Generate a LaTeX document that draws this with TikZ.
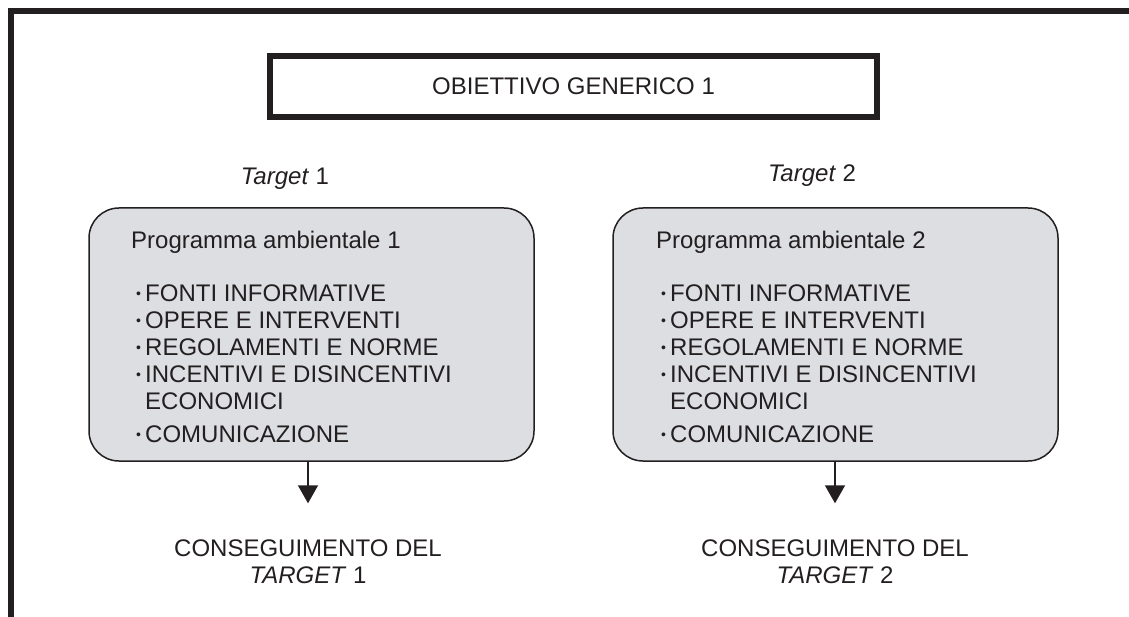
\documentclass[tikz,border=0pt]{standalone}
\usepackage{fontspec}
\setmainfont{Liberation Sans}
\usepackage{tikz}
\usetikzlibrary{arrows.meta,positioning}
\definecolor{ink}{RGB}{35,31,32}
\definecolor{boxgray}{RGB}{220,222,225}
\newcommand{\itemdot}{\makebox[14pt][l]{\hspace{5pt}\raisebox{3.4pt}{\fontsize{14}{14}\selectfont\textbullet}}}
\newcommand{\itemgap}{\hspace*{14pt}}

\begin{document}
\begin{tikzpicture}[x=1pt,y=-1pt]
			\tikzstyle{Frame}	= [line width=6pt, ink]
			\tikzstyle{Goal}	= [draw=ink, line width=6pt, minimum width=607pt, minimum height=61pt, inner sep=0pt]
			\tikzstyle{Program}	= [draw=ink, fill=boxgray, line width=1.5pt, rounded corners=30pt, minimum width=445pt, minimum height=253pt]
			\tikzstyle{Txt}		= [text=ink, font=\fontsize{24}{27}\selectfont, inner sep=0pt]
			\tikzstyle{Items}	= [Txt, align=left, anchor=north west]
			\tikzstyle{Result}	= [Txt, align=center]
			\tikzstyle{Arrow}	= [-{Triangle[width=20pt,length=18pt]}, line width=1.5pt, ink, shorten >=36pt]

			\useasboundingbox (0,0) rectangle (1129,617);

			\coordinate (fb) at (11,617);
			\coordinate (fc) at (11,11);
			\coordinate (fr) at (1129,11);
			\draw [-] (fb) -- (fc) -- (fr) [Frame];

			\node (goal) at (573.5,86.5) [Goal, Txt] {OBIETTIVO GENERICO 1};

			\node (p1) at (311.5,334.5) [Program] {};
			\node (p2) at (835.5,334.5) [Program] {};

			\node (t1) at (285,185) [Txt, anchor=base] {\textit{Target} 1};
			\node (t2) at (812,182) [Txt, anchor=base] {\textit{Target} 2};

			\node (h1) at (131,249) [Txt, anchor=base west] {Programma ambientale 1};
			\node (h2) at (656,249) [Txt, anchor=base west] {Programma ambientale 2};

			\node (l1) at (131,285) [Items] {\itemdot FONTI INFORMATIVE\\ \itemdot OPERE E INTERVENTI\\ \itemdot REGOLAMENTI E NORME\\ \itemdot INCENTIVI E DISINCENTIVI\\ \itemgap ECONOMICI\\[6pt] \itemdot COMUNICAZIONE};
			\node (l2) at (656,285) [Items] {\itemdot FONTI INFORMATIVE\\ \itemdot OPERE E INTERVENTI\\ \itemdot REGOLAMENTI E NORME\\ \itemdot INCENTIVI E DISINCENTIVI\\ \itemgap ECONOMICI\\[6pt] \itemdot COMUNICAZIONE};

			\node (r1) at (308,561.5) [Result] {CONSEGUIMENTO DEL\\ \textit{TARGET} 1};
			\node (r2) at (835,561.5) [Result] {CONSEGUIMENTO DEL\\ \textit{TARGET} 2};

			\draw (p1.south -| r1.north) to (r1.north) [Arrow];
			\draw (p2.south -| r2.north) to (r2.north) [Arrow];

		\end{tikzpicture}
\end{document}
